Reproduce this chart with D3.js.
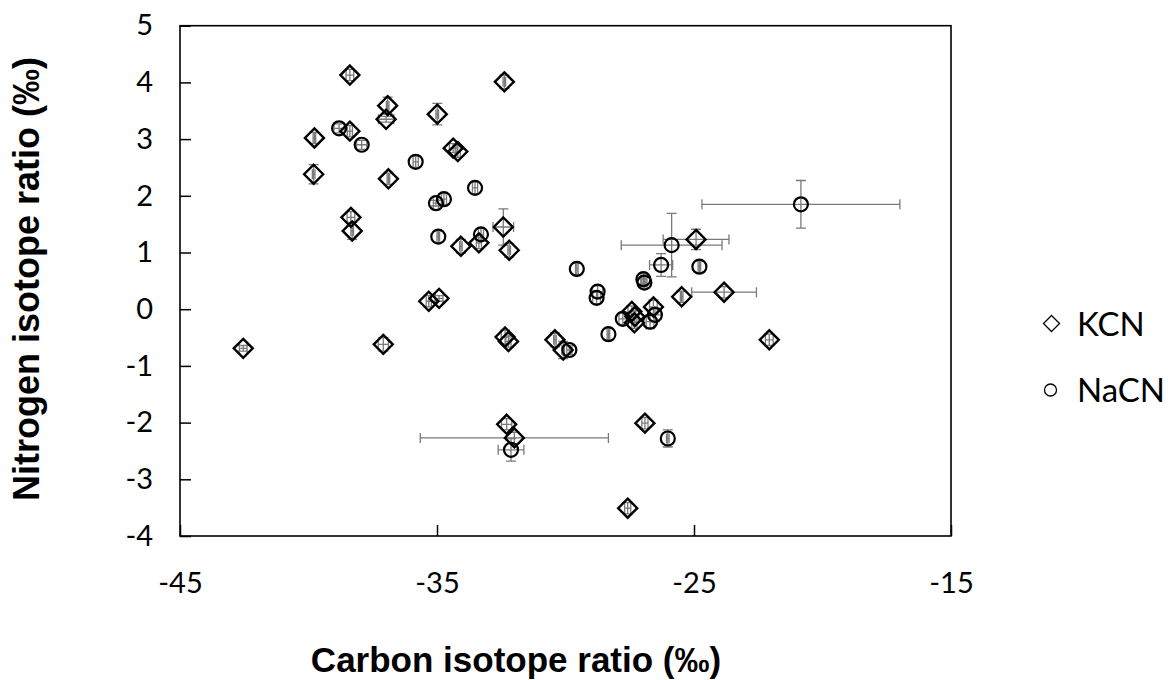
<!DOCTYPE html>
<html>
<head>
<meta charset="utf-8">
<script src="https://cdn.jsdelivr.net/npm/d3@7"></script>
<style>
  body { margin: 0; background: #fff; }
</style>
</head>
<body>
<div id="scatter"></div>
<script>
// Chart data
var kcnX = [-42.54, -38.39, -32.38, -36.92, -36.98, -34.99, -38.39, -39.77, -34.37, -34.19,
  -39.80, -36.89, -32.42, -38.35, -38.30, -34.07, -33.37, -32.19, -37.09, -35.32,
  -34.92, -32.35, -32.22, -30.41, -30.09, -24.92, -25.48, -23.83, -26.58, -27.42,
  -27.30, -27.32, -22.07, -32.29, -31.99, -26.91, -27.58];
var kcnY = [-0.69, 4.13, 4.01, 3.59, 3.35, 3.44, 3.14, 3.02, 2.84, 2.78,
  2.38, 2.30, 1.45, 1.62, 1.38, 1.11, 1.17, 1.04, -0.62, 0.14,
  0.19, -0.49, -0.57, -0.54, -0.72, 1.23, 0.22, 0.30, 0.04, -0.04,
  -0.13, -0.24, -0.54, -2.03, -2.27, -2.01, -3.51];
var kcnXErr = [0.15, 0.15, 0.05, 0.05, 0.30, 0.05, 0.10, 0.05, 0.15, 0.10,
  0.05, 0.05, 0.40, 0.15, 0.05, 0.05, 0.10, 0.05, 0.20, 0.10,
  0.15, 0.15, 0.10, 0.05, 0.05, 1.28, 0.05, 1.26, 0.15, 0.15,
  0.15, 0.10, 0.15, 0.20, 3.66, 0.12, 0.12];
var kcnYErr = [0.05, 0.10, 0.12, 0.15, 0.05, 0.19, 0.10, 0.10, 0.08, 0.10,
  0.17, 0.10, 0.32, 0.10, 0.15, 0.12, 0.10, 0.12, 0.12, 0.10,
  0.05, 0.12, 0.10, 0.12, 0.15, 0.18, 0.10, 0.10, 0.12, 0.10,
  0.10, 0.10, 0.10, 0.10, 0.10, 0.10, 0.10];

var nacnX = [-38.81, -37.93, -35.83, -33.52, -35.04, -34.73, -34.95, -33.29, -20.84, -25.87,
  -26.28, -24.79, -29.56, -26.97, -26.93, -28.75, -28.79, -27.77, -26.71, -26.52,
  -28.33, -29.85, -32.12, -26.02];
var nacnY = [3.19, 2.90, 2.60, 2.14, 1.87, 1.94, 1.28, 1.32, 1.85, 1.13,
  0.78, 0.75, 0.71, 0.53, 0.47, 0.31, 0.20, -0.17, -0.22, -0.10,
  -0.44, -0.72, -2.48, -2.28];
var nacnXErr = [0.20, 0.20, 0.10, 0.10, 0.10, 0.10, 0.05, 0.10, 3.85, 1.96,
  0.45, 0.05, 0.05, 0.10, 0.10, 0.20, 0.15, 0.15, 0.15, 0.25,
  0.05, 0.10, 0.50, 0.05];
var nacnYErr = [0.08, 0.08, 0.10, 0.10, 0.05, 0.10, 0.10, 0.10, 0.42, 0.56,
  0.20, 0.10, 0.10, 0.10, 0.10, 0.10, 0.10, 0.10, 0.12, 0.12,
  0.10, 0.08, 0.20, 0.15];

var xTicks = [-45, -35, -25, -15];
var yTicks = [-4, -3, -2, -1, 0, 1, 2, 3, 4, 5];
var seriesNames = ["KCN", "NaCN"];

// SVG area and plot frame
var svgWidth = 1168;
var svgHeight = 680;

var Margin = {
  top: 25.7,
  right: 217,
  bottom: 144,
  left: 180
};

var width = svgWidth - Margin.left - Margin.right;
var height = svgHeight - Margin.top - Margin.bottom;

var svg = d3
  .select("#scatter")
  .append("svg")
  .attr("height", svgHeight)
  .attr("width", svgWidth);

var chartGroup = svg.append("g")
  .attr("transform", `translate(${Margin.left}, ${Margin.top})`);

// Build point tables
var kcnData = kcnX.map(function(x, i) {
  return { x: x, y: kcnY[i], ex: kcnXErr[i], ey: kcnYErr[i] };
});
var nacnData = nacnX.map(function(x, i) {
  return { x: x, y: nacnY[i], ex: nacnXErr[i], ey: nacnYErr[i] };
});

// Scales
var xLinearScale = d3.scaleLinear()
  .domain([-45, -15])
  .range([0, width]);

var yLinearScale = d3.scaleLinear()
  .domain([-4, 5])
  .range([height, 0]);

// Axes with inward ticks
var bottomAxis = d3.axisBottom(xLinearScale)
  .tickValues(xTicks)
  .tickSizeInner(-11)
  .tickSizeOuter(0)
  .tickPadding(36)
  .tickFormat(d => String(d));

var leftAxis = d3.axisLeft(yLinearScale)
  .tickValues(yTicks)
  .tickSizeInner(-11)
  .tickSizeOuter(0)
  .tickPadding(27)
  .tickFormat(d => String(d));

var xAxisG = chartGroup.append("g")
  .attr("transform", `translate(0, ${height})`)
  .call(bottomAxis);

var yAxisG = chartGroup.append("g")
  .call(leftAxis);

[xAxisG, yAxisG].forEach(function(g) {
  g.select(".domain").remove();
  g.selectAll(".tick line").attr("stroke", "#000").attr("stroke-width", 1.5);
  g.selectAll(".tick text")
    .attr("fill", "#000")
    .style("font-family", "Lato, 'Open Sans', sans-serif")
    .style("font-size", "29px");
});

// Frame round the plot
chartGroup.append("rect")
  .attr("x", 0)
  .attr("y", 0)
  .attr("width", width)
  .attr("height", height)
  .attr("fill", "none")
  .attr("stroke", "#000")
  .attr("stroke-width", 1.6);

// Error bars
var errColor = "#7a7a7a";
var cap = 5;

function drawErrors(data) {
  var g = chartGroup.append("g")
    .attr("stroke", errColor)
    .attr("stroke-width", 1.3)
    .attr("fill", "none");

  data.forEach(function(d) {
    var cx = xLinearScale(d.x);
    var cy = yLinearScale(d.y);
    var x0 = xLinearScale(d.x - d.ex);
    var x1 = xLinearScale(d.x + d.ex);
    var y0 = yLinearScale(d.y + d.ey);
    var y1 = yLinearScale(d.y - d.ey);

    g.append("path")
      .attr("d", `M${x0},${cy}H${x1}M${x0},${cy - cap}V${cy + cap}M${x1},${cy - cap}V${cy + cap}`);
    g.append("path")
      .attr("d", `M${cx},${y0}V${y1}M${cx - cap},${y0}H${cx + cap}M${cx - cap},${y1}H${cx + cap}`);
  });
}

drawErrors(kcnData);
drawErrors(nacnData);

// Markers
var diamond = function(s) {
  return `M0,${-s}L${s},0L0,${s}L${-s},0Z`;
};

chartGroup.selectAll(".kcn")
  .data(kcnData)
  .enter()
  .append("path")
  .attr("class", "kcn")
  .attr("transform", d => `translate(${xLinearScale(d.x)}, ${yLinearScale(d.y)})`)
  .attr("d", diamond(9.5))
  .attr("fill", "none")
  .attr("stroke", "#000")
  .attr("stroke-width", 2.4);

chartGroup.selectAll(".nacn")
  .data(nacnData)
  .enter()
  .append("circle")
  .attr("class", "nacn")
  .attr("cx", d => xLinearScale(d.x))
  .attr("cy", d => yLinearScale(d.y))
  .attr("r", 7)
  .attr("fill", "none")
  .attr("stroke", "#000")
  .attr("stroke-width", 2.2);

// Axis titles
svg.append("text")
  .attr("x", 516)
  .attr("y", 672)
  .attr("text-anchor", "middle")
  .style("font-family", "'Liberation Sans', Arial, sans-serif")
  .style("font-weight", "bold")
  .style("font-size", "35px")
  .text("Carbon isotope ratio (‰)");

svg.append("text")
  .attr("transform", "translate(39, 279) rotate(-90)")
  .attr("text-anchor", "middle")
  .style("font-family", "'Liberation Sans', Arial, sans-serif")
  .style("font-weight", "bold")
  .style("font-size", "36px")
  .text("Nitrogen isotope ratio (‰)");

// Legend
var legend = svg.append("g");

legend.append("path")
  .attr("transform", "translate(1051.5, 323.5)")
  .attr("d", diamond(8))
  .attr("fill", "none")
  .attr("stroke", "#000")
  .attr("stroke-width", 1.3);

legend.append("circle")
  .attr("cx", 1050.5)
  .attr("cy", 390)
  .attr("r", 6)
  .attr("fill", "none")
  .attr("stroke", "#000")
  .attr("stroke-width", 1.3);

legend.selectAll(".legendText")
  .data(seriesNames)
  .enter()
  .append("text")
  .attr("class", "legendText")
  .attr("x", 1077)
  .attr("y", (d, i) => 336 + i * 66)
  .style("font-family", "Lato, 'Open Sans', sans-serif")
  .style("font-size", "33px")
  .attr("fill", "#000")
  .text(d => d);
</script>
</body>
</html>
